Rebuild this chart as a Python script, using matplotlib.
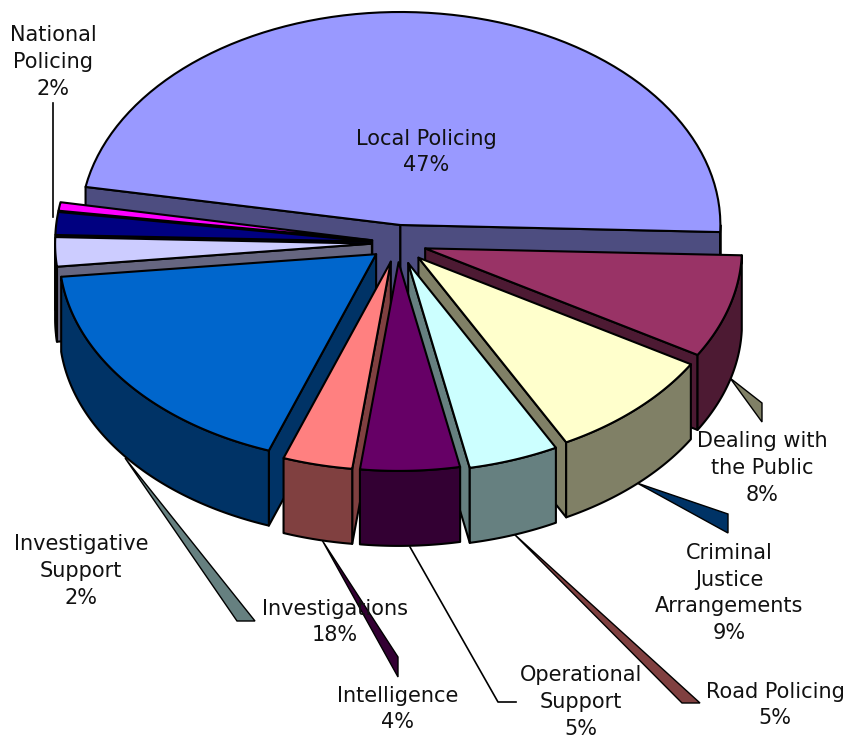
import numpy as np
import matplotlib
matplotlib.use("Agg")
import matplotlib.pyplot as plt
from matplotlib.patches import Polygon

# clockwise from the top slice, the last one has no label in the original
names = ["Local Policing", "Dealing with\nthe Public", "Criminal\nJustice\nArrangements",
         "Road Policing", "Operational\nSupport", "Intelligence", "Investigations",
         "Investigative\nSupport", "National\nPolicing", ""]
values = [47.49, 7.97, 8.72, 4.59, 5.04, 3.54, 17.71, 2.21, 1.72, 0.64]
colors = ["#9999FF", "#993366", "#FFFFCC", "#CCFFFF", "#660066",
          "#FF8080", "#0066CC", "#CCCCFF", "#000080", "#FF00FF"]
explode = [0.085, 0.09, 0.095, 0.10, 0.09, 0.09, 0.085, 0.08, 0.08, 0.08]
# the big slice sits further back and reads slightly larger than the rest
scale_x = [1.0, 0.99, 0.99, 0.99, 0.99, 0.99, 0.99, 0.99, 0.99, 0.99]
scale_y = [1.0, 0.98, 0.98, 0.98, 0.98, 0.98, 0.98, 1.0, 1.0, 1.0]

# label centres in pixels, same order as names
label_x = [426, 762, 729, 775, 581, 398, 335, 81, 53]
label_y = [152, 468, 593, 705, 702, 709, 622, 571, 62]

# tapered leaders: (fill, outline points)
leaders = [("#808066", [(730, 378), (762, 403), (762, 422)]),
           ("#003366", [(637, 483), (728, 514), (728, 533)]),
           ("#804040", [(513, 533), (700, 703), (682, 703)]),
           ("#330033", [(322, 540), (398, 657), (398, 677)]),
           ("#668080", [(125, 458), (255, 621), (237, 621)])]
lines = [[(410, 547), (498, 702), (516, 702)],
         [(53, 103), (53, 217)]]

cx, cy = 397.5, 243
rx, ry = 320, 213
depth = 75
start = 169.7
# painter order, back slices first
order = [0, 9, 8, 7, 1, 2, 3, 6, 5, 4]


def darker(c):
    rgb = matplotlib.colors.to_rgb(c)
    return tuple(v * 0.5 for v in rgb)


def arc(a0, a1, ox, oy, w, h, n=80):
    t = np.radians(np.linspace(a0, a1, n))
    return np.column_stack([ox + w * np.cos(t), oy - h * np.sin(t)])


def face(ax, pts, fc, z):
    ax.add_patch(Polygon(pts, closed=True, facecolor=fc, edgecolor="black",
                         linewidth=1.5, joinstyle="round", zorder=z))


fig = plt.figure(figsize=(8.61, 7.37), dpi=100)
ax = fig.add_axes([0, 0, 1, 1])
ax.set_xlim(0, 861)
ax.set_ylim(737, 0)
ax.axis("off")

sweeps = np.array(values) / sum(values) * 360
edges = start - np.concatenate([[0], np.cumsum(sweeps)])

# leaders go under the slices so they start at the wall edge
for fc, pts in leaders:
    ax.add_patch(Polygon(pts, closed=True, facecolor=fc, edgecolor="black",
                         linewidth=1.0, zorder=0))
for pts in lines:
    xs, ys = zip(*pts)
    ax.plot(xs, ys, color="black", linewidth=1.2, zorder=0)

z = 1
for i in order:
    a0, a1 = edges[i], edges[i + 1]
    mid = np.radians((a0 + a1) / 2)
    ox = cx + explode[i] * rx * np.cos(mid)
    oy = cy - explode[i] * ry * np.sin(mid)
    w, h = rx * scale_x[i], ry * scale_y[i]
    dark = darker(colors[i])
    tip = np.array([ox, oy])
    down = np.array([0, depth])
    # cut faces, only the ones turned to the viewer
    for a, show in ((a0, np.cos(np.radians(a0)) < 0), (a1, np.cos(np.radians(a1)) > 0)):
        if show:
            p = arc(a, a, ox, oy, w, h, 1)[0]
            face(ax, [tip, p, p + down, tip + down], dark, z)
            z += 1
    # outer wall, front half only
    lo, hi = max(a1, -180), min(a0, 0)
    if hi > lo:
        rim = arc(hi, lo, ox, oy, w, h)
        face(ax, np.vstack([rim, (rim + down)[::-1]]), dark, z)
        z += 1
    face(ax, np.vstack([tip, arc(a0, a1, ox, oy, w, h)]), colors[i], z)
    z += 1

for name, v, x, y in zip(names, values, label_x, label_y):
    ax.text(x, y, f"{name}\n{round(v)}%", ha="center", va="center", fontsize=15,
            family="DejaVu Sans", color="#111111", linespacing=1.42, zorder=z + 1)

fig.savefig("out.png", dpi=100)
